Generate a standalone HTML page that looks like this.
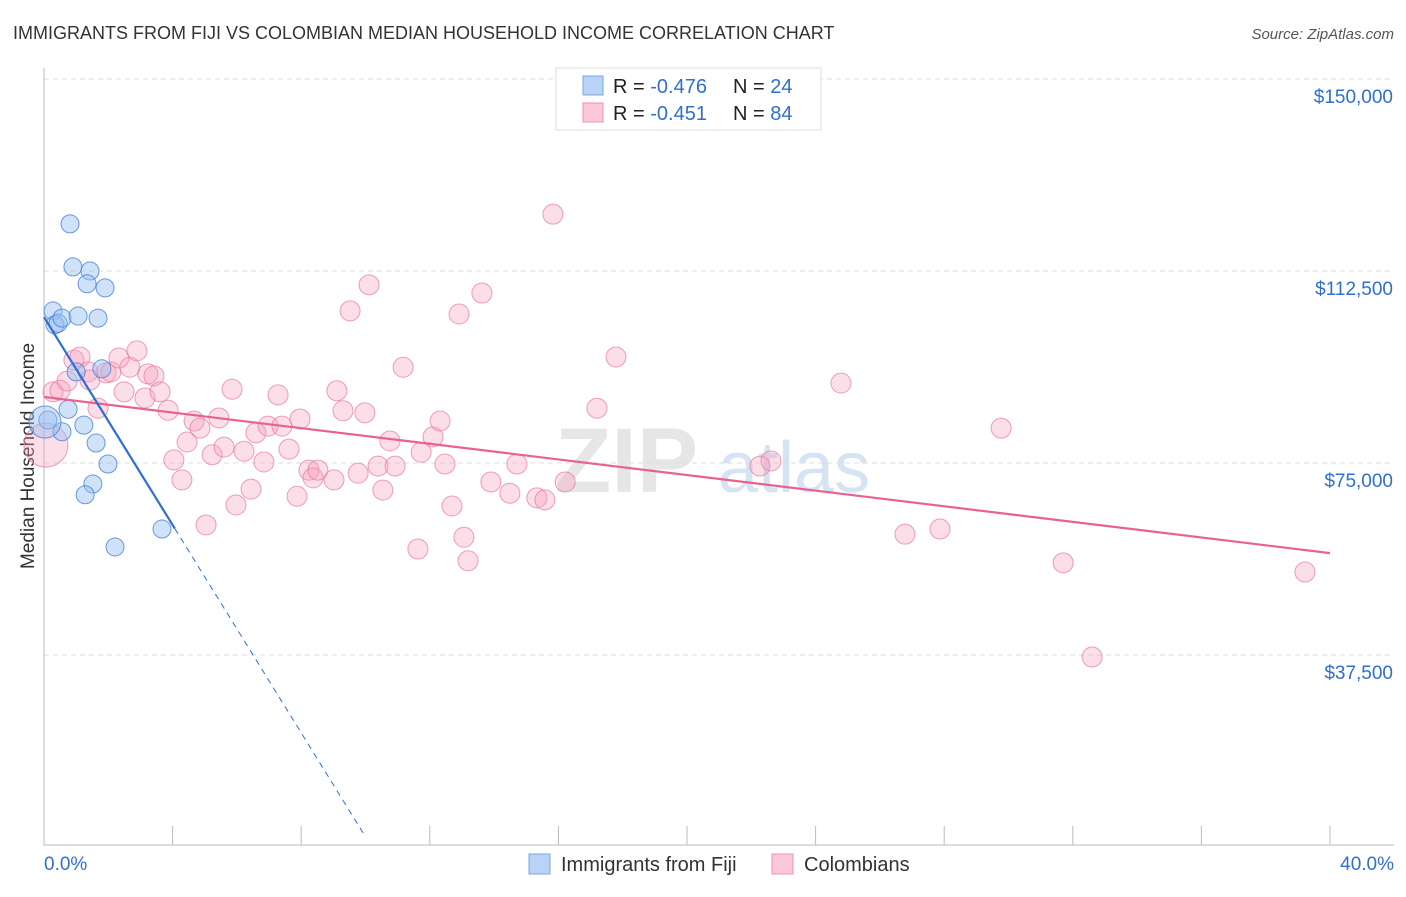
<!DOCTYPE html>
<html><head><meta charset="utf-8"><style>
body{margin:0;background:#fff;width:1406px;height:892px;overflow:hidden;font-family:"Liberation Sans",sans-serif;}
svg text{font-family:"Liberation Sans",sans-serif;}
</style></head><body>
<svg id="chart" width="1406" height="892" xmlns="http://www.w3.org/2000/svg">
<text x="13" y="39" font-size="18" fill="#333">IMMIGRANTS FROM FIJI VS COLOMBIAN MEDIAN HOUSEHOLD INCOME CORRELATION CHART</text>
<text x="1394" y="39" font-size="15" fill="#555" text-anchor="end" font-style="italic">Source: ZipAtlas.com</text>
<text x="555" y="492" font-size="92" fill="#e6e6e6" font-family="Liberation Serif" font-weight="bold">ZIP</text>
<text x="718" y="492" font-size="72" fill="#d5e3f3">atlas</text>
<text transform="translate(34,456) rotate(-90)" font-size="19" fill="#333" text-anchor="middle">Median Household Income</text>
<g id="grid"></g><g id="axes"></g><g id="pts"></g><g id="lines"></g>
<g>
<rect x="556" y="68" width="265" height="62" fill="#fff" stroke="#ddd"/>
<rect x="583" y="76" width="20" height="19" fill="#b8d3f5" stroke="#7aa7e0"/>
<rect x="583" y="103" width="20" height="19" fill="#fac8d8" stroke="#ee93b0"/>
<text x="613" y="93" font-size="20" fill="#222">R = <tspan fill="#2f6fce">-0.476</tspan><tspan x="733">N = </tspan><tspan fill="#2f6fce">24</tspan></text>
<text x="613" y="120" font-size="20" fill="#222">R = <tspan fill="#2f6fce"> -0.451</tspan><tspan x="733">N = </tspan><tspan fill="#2f6fce">84</tspan></text>
</g>
<g>
<rect x="529" y="854" width="21" height="20" fill="#b8d3f5" stroke="#7aa7e0"/>
<text x="561" y="871" font-size="20" fill="#333">Immigrants from Fiji</text>
<rect x="772" y="854" width="21" height="20" fill="#fac8d8" stroke="#ee93b0"/>
<text x="804" y="871" font-size="20" fill="#333">Colombians</text>
</g>
</svg>
<script>
const yTicks=[37500,75000,112500,150000];
const yTickLabels=["$37,500","$75,000","$112,500","$150,000"];
const xTickLabels=["0.0%","40.0%"];
const fijiX=[0.81,0.90,1.43,1.34,1.90,0.28,0.34,0.44,0.56,1.06,1.68,1.80,1.00,0.75,0.12,1.24,1.62,0.56,1.99,1.52,1.28,2.21,3.67,0.03];
const fijiY=[121700,113300,112500,110000,109200,104700,102000,102300,103300,103700,103300,93400,92800,85500,83400,82400,78900,81100,74800,70900,68800,58600,62100,83000];
const colX=[0.06,0.28,0.50,0.72,0.93,1.12,1.37,1.68,1.43,1.93,2.08,2.33,2.49,2.67,2.89,3.14,3.23,3.42,3.61,3.86,4.04,4.29,4.45,4.67,4.85,5.04,5.23,5.44,5.60,5.85,5.97,6.22,6.44,6.59,6.84,6.97,7.28,7.40,7.62,7.87,7.96,8.24,8.37,8.52,9.02,9.11,9.30,9.52,9.77,9.98,10.11,10.39,10.54,10.76,10.92,11.17,11.63,11.73,12.10,12.32,12.47,12.69,12.91,13.06,13.19,13.62,13.90,14.49,14.71,15.33,15.58,15.83,16.21,17.20,17.79,22.27,22.61,24.79,26.78,27.87,29.77,31.70,32.60,39.22];
const colY=[78500,88900,89200,91000,95100,95700,92800,85700,91200,92600,92800,95500,88900,93700,96900,87700,92400,92000,88900,85300,75600,71700,79100,83200,81800,62900,76600,83800,78100,89400,66800,77300,69900,80900,75200,82200,88300,82200,77700,68500,83600,73600,72100,73600,71700,89100,85200,104700,73000,84800,109800,74400,69700,79300,74400,93700,58200,77100,80100,83200,74800,66600,104100,60500,55900,108200,71300,69100,74800,68200,67800,123600,71300,85700,95700,74400,75400,90600,61100,62100,81800,55500,37100,53700];
const fijiTrend=[103500,-10150]; // intercept, slope per %
const colTrend=[87900,-762.5];
const NS="http://www.w3.org/2000/svg";
const X=p=>44+p*32.15, Y=v=>847-v*0.00512;
function mk(tag,attrs,parent){const e=document.createElementNS(NS,tag);for(const k in attrs)e.setAttribute(k,attrs[k]);parent.appendChild(e);return e;}
const grid=document.getElementById('grid'),axes=document.getElementById('axes'),pts=document.getElementById('pts'),lines=document.getElementById('lines');
yTicks.forEach((t,i)=>{
 const l=mk('line',{x1:44,x2:1394,y1:Y(t),y2:Y(t),stroke:'#ddd','stroke-dasharray':'5,4'},grid);
 
 
 const tx=mk('text',{x:1393,y:Y(t)+24,'font-size':19,fill:'#2f6fce','text-anchor':'end'},axes);
 tx.textContent=yTickLabels[i];
 
 
});
const ax=mk('line',{x1:44,x2:1394,y1:845,y2:845,stroke:'#bbb'},axes);


const ay=mk('line',{x1:44,x2:44,y1:68,y2:845,stroke:'#bbb'},axes);


for(let i=0;i<=10;i++){const tk=mk('line',{x1:X(i*4),x2:X(i*4),y1:826,y2:845,stroke:'#bbb'},axes);
 
 }
[[0,'start',44],[40,'end',1394]].forEach((d,i)=>{const t=mk('text',{x:d[2],y:870,'font-size':19,fill:'#2f6fce','text-anchor':d[1]},axes);t.textContent=xTickLabels[i];
 
 });
colX.forEach((x,i)=>{const c=mk('circle',{cx:X(x),cy:Y(colY[i]),r:i===0?22:10,fill:'rgba(246,160,190,0.35)',stroke:'rgba(230,120,160,0.7)','stroke-width':1},pts);
 
 });
fijiX.forEach((x,i)=>{const c=mk('circle',{cx:X(x),cy:Y(fijiY[i]),r:i===23?16:9,fill:'rgba(150,190,240,0.45)',stroke:'rgba(70,130,215,0.8)','stroke-width':1},pts);
 
 });
const ct=mk('line',{x1:X(0),y1:Y(colTrend[0]),x2:X(40),y2:Y(colTrend[0]+40*colTrend[1]),stroke:'#e8628f','stroke-width':2.2},lines);


const fEnd=4.07,fEnd2=10.0;
const ft=mk('line',{x1:X(0),y1:Y(fijiTrend[0]),x2:X(fEnd),y2:Y(fijiTrend[0]+fEnd*fijiTrend[1]),stroke:'#2e6fd6','stroke-width':2.2},lines);


const fd=mk('line',{x1:X(fEnd),y1:Y(fijiTrend[0]+fEnd*fijiTrend[1]),x2:X(fEnd2),y2:Y(fijiTrend[0]+fEnd2*fijiTrend[1]),stroke:'#2e6fd6','stroke-width':1,'stroke-dasharray':'6,5'},lines);


</script>
</body></html>
